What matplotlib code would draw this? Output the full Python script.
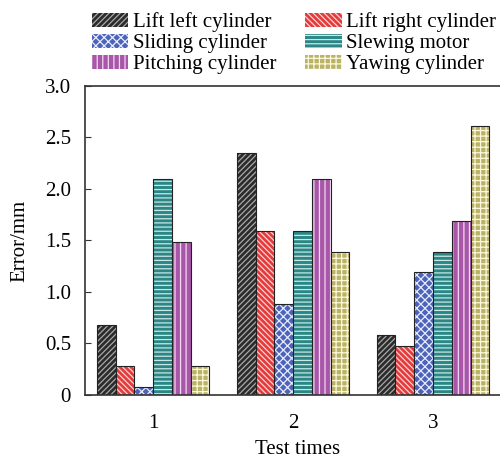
import matplotlib
matplotlib.use("Agg")
import matplotlib.pyplot as plt
import numpy as np

plt.rcParams["font.family"] = ["Liberation Serif", "DejaVu Serif"]
plt.rcParams["hatch.linewidth"] = 0.9

tests = [1, 2, 3]
series = [
    "Lift left cylinder",
    "Lift right cylinder",
    "Sliding cylinder",
    "Slewing motor",
    "Pitching cylinder",
    "Yawing cylinder",
]
lift_left = [0.68, 2.35, 0.58]
lift_right = [0.28, 1.59, 0.48]
sliding = [0.08, 0.88, 1.19]
slewing = [2.10, 1.59, 1.39]
pitching = [1.49, 2.10, 1.69]
yawing = [0.28, 1.39, 2.61]
values = [lift_left, lift_right, sliding, slewing, pitching, yawing]

# face colour, hatch colour, hatch pattern per series
styles = [
    ("#2b2b2b", "#a8a8a8", "//////"),
    ("#e23b3b", "#ffd0d0", "\\\\\\\\\\\\"),
    ("#4d62b8", "#e6ecff", "xxxx"),
    ("#2b8785", "#c8e8e6", "----"),
    ("#a857a8", "#f3d8f3", "|||"),
    ("#b9b267", "#fbf8dc", "+++"),
]
FS = 15

fig = plt.figure(figsize=(5.0, 4.62), dpi=100)
ax = fig.add_axes([0.17, 0.145, 0.85, 0.669])

width = 0.134
x = np.array(tests, dtype=float)
handles = []
for i, (name, vals) in enumerate(zip(series, values)):
    face, hcol, hatch = styles[i]
    pos = x + (i - 2.5) * width
    bars = ax.bar(pos, vals, width, color=face, edgecolor=hcol, hatch=hatch,
                  linewidth=0, label=name)
    ax.bar(pos, vals, width, fill=False, edgecolor="#222222", linewidth=0.8)
    handles.append(bars)

ax.set_xlim(0.514, 3.55)
ax.set_ylim(0, 3.0)
ax.set_xticks(tests)
ax.set_xticklabels([str(t) for t in tests])
ax.set_yticks([0, 0.5, 1.0, 1.5, 2.0, 2.5, 3.0])
ax.set_yticklabels(["0", "0.5", "1.0", "1.5", "2.0", "2.5", "3.0"])
ax.tick_params(axis="both", direction="in", labelsize=FS, length=4, color="#333333")
ax.tick_params(axis="y", pad=10)
ax.tick_params(axis="x", length=0, pad=14)
for side in ax.spines.values():
    side.set_color("#333333")
    side.set_linewidth(1.2)
ax.set_xlabel("Test times", fontsize=FS, labelpad=5)
ax.set_ylabel("Error/mm", fontsize=FS, labelpad=11)

order = [0, 2, 4, 1, 3, 5]
fig.legend([handles[k] for k in order], [series[k] for k in order],
           ncol=2, loc="upper left", bbox_to_anchor=(0.184, 0.973),
           frameon=False, fontsize=FS, handlelength=1.75, handleheight=0.65,
           handletextpad=0.2, labelspacing=0.08, columnspacing=1.4,
           borderaxespad=0, borderpad=0)

fig.savefig("out.png", dpi=100)
